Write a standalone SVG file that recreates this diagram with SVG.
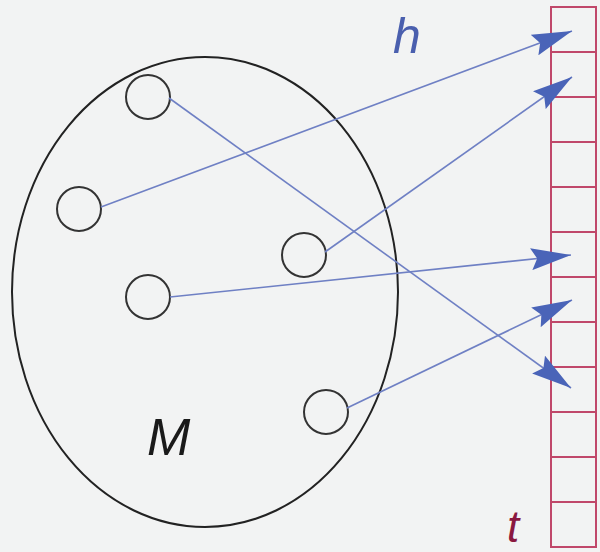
<svg xmlns="http://www.w3.org/2000/svg" width="600" height="552" viewBox="0 0 600 552">
<style>
.bg{fill:#f2f3f3}
.el{fill:none;stroke:#222;stroke-width:2}
.nd{fill:none;stroke:#333;stroke-width:2}
.cell{fill:none;stroke:#c0486a;stroke-width:2}
.ed{stroke:#6f80c4;stroke-width:1.6;fill:none}
.lbl{font-family:"Liberation Sans",Arial,sans-serif;font-style:italic}
</style>
<defs>
<marker id="ah" viewBox="0 0 40 22" refX="40" refY="11" markerWidth="40" markerHeight="22" markerUnits="userSpaceOnUse" orient="auto">
<path d="M0,0 L40,11 L0,22 L6,11 Z" fill="#4a64b8"/>
</marker>
</defs>
<rect class="bg" x="0" y="0" width="600" height="552"/>
<g id="set-M">
<ellipse class="el" cx="205" cy="292" rx="193" ry="235"/>
<text class="lbl" x="147" y="455" font-size="52" fill="#1a1a1a">M</text>
</g>
<g id="table-t">
<rect class="cell" x="551" y="7" width="45" height="540"/>
<path class="cell" d="M551,52H596M551,97H596M551,142H596M551,187H596M551,232H596M551,277H596M551,322H596M551,367H596M551,412H596M551,457H596M551,502H596"/>
<text class="lbl" x="507" y="542" font-size="44" fill="#8a1840">t</text>
</g>
<g id="n1"><circle class="nd" cx="148" cy="97" r="22"/></g>
<g id="n2"><circle class="nd" cx="79" cy="209" r="22"/></g>
<g id="n3"><circle class="nd" cx="304" cy="255" r="22"/></g>
<g id="n4"><circle class="nd" cx="148" cy="297" r="22"/></g>
<g id="n5"><circle class="nd" cx="326" cy="412" r="22"/></g>
<g id="label-h"><text class="lbl" x="393" y="53" font-size="50" fill="#4a5fae">h</text></g>
<g id="connectors">
<line class="ed" x1="101" y1="207" x2="572" y2="31" marker-end="url(#ah)"/>
<line class="ed" x1="325" y1="252" x2="572" y2="77" marker-end="url(#ah)"/>
<line class="ed" x1="170" y1="297" x2="571" y2="255" marker-end="url(#ah)"/>
<line class="ed" x1="347" y1="408" x2="572" y2="300" marker-end="url(#ah)"/>
<line class="ed" x1="169" y1="98" x2="571" y2="388" marker-end="url(#ah)"/>
</g>
</svg>
